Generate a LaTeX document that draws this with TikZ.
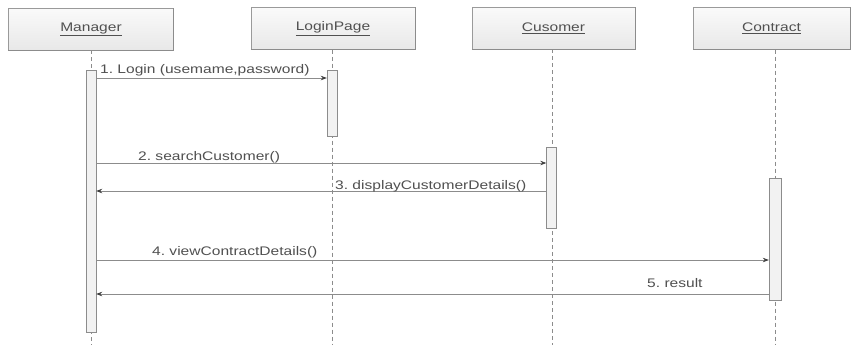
\documentclass[tikz,border=0pt]{standalone}
\usepackage{fontspec}
\setmainfont[FakeStretch=1.25]{Liberation Sans}
\usetikzlibrary{arrows.meta,calc}
\definecolor{ink}{HTML}{505050}
\definecolor{rule}{HTML}{8C8C8C}
\definecolor{edge}{HTML}{9A9A9A}
\begin{document}
\begin{tikzpicture}[x=1bp,y=-1bp,
  txt/.style={font=\fontsize{12.5}{14}\selectfont, text=ink},
  header/.style={txt, draw=edge, top color=black!2, bottom color=black!9,
    minimum height=42bp, inner sep=0pt},
  bar/.style={draw=rule, fill=black!5, minimum width=10bp, inner sep=0pt},
  life/.style={draw=rule, dash pattern=on 4bp off 3bp, line width=0.6bp},
  msg/.style={draw=rule, line width=0.7bp,
    -{Stealth[length=6bp,width=4.5bp,color=ink!80!black]}},
  lbl/.style={txt, inner sep=0pt, anchor=base west},
  shade edge/.style={draw=black!45, line width=0.9bp}
]
\useasboundingbox[fill=white] (0,0) rectangle (851,345);

% object headers
\node[header, minimum width=165bp] (hMgr) at (91,29)    {\underline{Manager}};
\node[header, minimum width=164bp] (hLog) at (333,28.5) {\underline{LoginPage}};
\node[header, minimum width=163bp] (hCus) at (553.5,28) {\underline{Cusomer}};
\node[header, minimum width=157bp] (hCon) at (771.5,28.5) {\underline{Contract}};

% darker lower and right edges of the headers
\foreach \h in {hMgr,hLog,hCus,hCon}
  \draw[shade edge] (\h.south west) -- (\h.south east) -- (\h.north east);

% lifeline ends
\coordinate (eMgr) at (91,345);
\coordinate (eLog) at (332,345);
\coordinate (eCus) at (552,345);
\coordinate (eCon) at (775,345);

\draw[life] (hMgr.south -| eMgr) -- (eMgr);
\draw[life] (hLog.south -| eLog) -- (eLog);
\draw[life] (hCus.south -| eCus) -- (eCus);
\draw[life] (hCon.south -| eCon) -- (eCon);

% activation bars
\node[bar, minimum height=262bp] (aMgr) at (91,201)    {};
\node[bar, minimum height=66bp]  (aLog) at (332,103)   {};
\node[bar, minimum height=81bp]  (aCus) at (551.5,187.5) {};
\node[bar, minimum width=12bp, minimum height=122bp] (aCon) at (775,239) {};

% message rows
\coordinate (r1) at (0,78);
\coordinate (r2) at (0,163);
\coordinate (r3) at (0,191);
\coordinate (r4) at (0,260);
\coordinate (r5) at (0,294);

\draw[msg] (aMgr.east |- r1) -- (aLog.west |- r1);
\draw[msg] (aMgr.east |- r2) -- (aCus.west |- r2);
\draw[msg] (aCus.west |- r3) -- (aMgr.east |- r3);
\draw[msg] (aMgr.east |- r4) -- (aCon.west |- r4);
\draw[msg] (aCon.west |- r5) -- (aMgr.east |- r5);

% message labels
\node[lbl] (l1) at (100,73)  {1.\ Login (usemame,password)};
\node[lbl] (l2) at (138,160) {2.\ searchCustomer()};
\node[lbl] (l3) at (335,189) {3.\ displayCustomerDetails()};
\node[lbl] (l4) at (152,255) {4.\ viewContractDetails()};
\node[lbl] (l5) at (647,287) {5.\ result};
\end{tikzpicture}
\end{document}
